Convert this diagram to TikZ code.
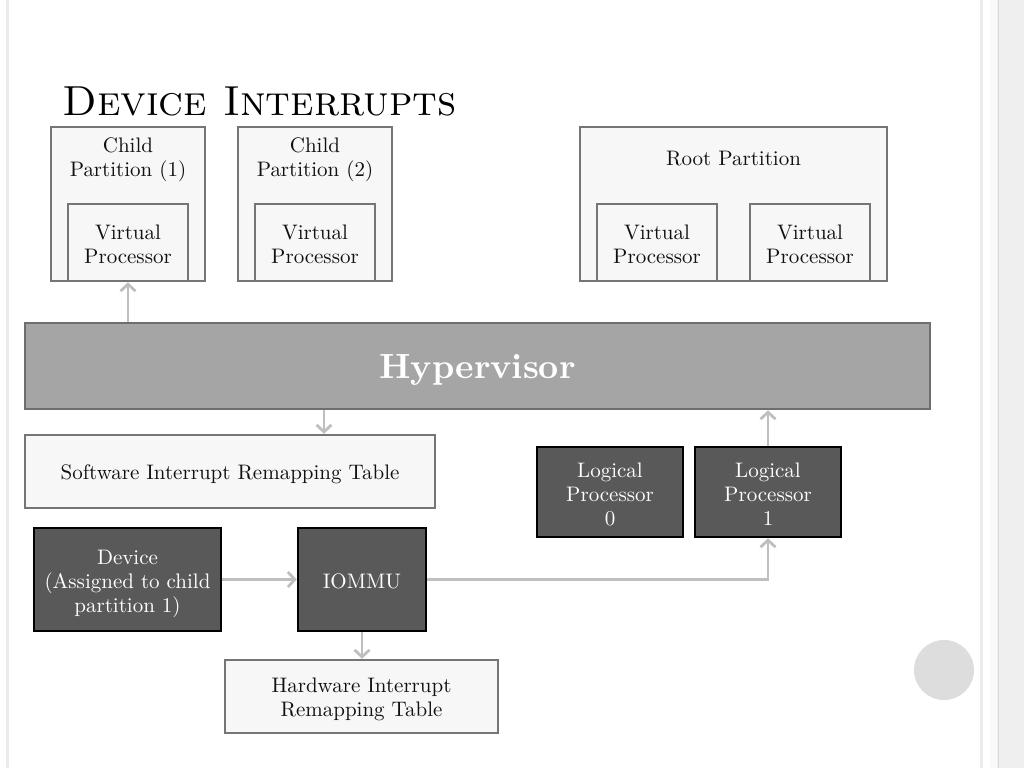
\documentclass[tikz,border=0pt]{standalone}
\usepackage{fontspec}
\setmainfont{lmroman10-regular}[Extension=.otf, BoldFont=lmroman10-bold, ItalicFont=lmroman10-italic, SmallCapsFont=lmromancaps10-regular]
\usetikzlibrary{arrows.meta}
\definecolor{lightfill}{HTML}{F7F7F7}
\definecolor{boxline}{HTML}{757575}
\definecolor{hypfill}{HTML}{A5A5A5}
\definecolor{hypline}{HTML}{6E6E6E}
\definecolor{darkfill}{HTML}{595959}
\definecolor{arrowgrey}{HTML}{BFBFBF}
\definecolor{edgegrey}{HTML}{EBEBEB}
\definecolor{bandgrey}{HTML}{EFEFEF}
\definecolor{circgrey}{HTML}{DDDDDD}
\definecolor{textdark}{HTML}{111111}
% lower a block of centred lines without changing its size
\newcommand{\lowerlines}[2]{\raisebox{-#1}[\height][\depth]{\begin{tabular}{@{}c@{}}#2\end{tabular}}}
\tikzset{
  txt/.style={font=\fontsize{21}{24}\selectfont, align=center, text=textdark},
  lightbox/.style={draw=boxline, fill=lightfill, line width=2.5pt, rectangle, inner sep=0pt, txt},
  darkbox/.style={draw=black, fill=darkfill, line width=2.5pt, rectangle, inner sep=0pt, txt, text=white},
  label/.style={txt, inner sep=0pt},
  arr/.style={draw=arrowgrey, line width=2.8pt, -{Straight Barb[length=7pt,width=15pt,line width=2.8pt]}},
}
\begin{document}
\begin{tikzpicture}[x=1pt,y=-1pt]
\useasboundingbox (0,0) rectangle (1024,768);
\fill[white] (0,0) rectangle (1024,768);
% slide decoration
\draw[edgegrey, line width=3pt] (7,0) -- (7,768);
\draw[edgegrey, line width=3pt] (981,0) -- (981,768);
\fill[bandgrey] (990,0) rectangle (1024,768);
\fill[white!60!bandgrey] (990,0) rectangle (997,768);
\draw[white!85!black, line width=1.5pt] (998.5,0) -- (998.5,768);
\fill[circgrey] (944,670) circle (30);
% title
\node[anchor=base west, inner sep=0pt, font=\fontsize{42}{50}\selectfont, text=black] (title) at (62,115) {\textsc{Device Interrupts}};
% partitions
\node[lightbox, minimum width=154pt, minimum height=154pt] (cp1) at (128,204) {};
\node[label] (cp1l) at (128,160) {Child\\Partition (1)};
\node[lightbox, minimum width=120pt, minimum height=77pt] (vp1) at (128,242.5) {\lowerlines{4pt}{Virtual\\Processor}};
\node[lightbox, minimum width=154pt, minimum height=154pt] (cp2) at (315,204) {};
\node[label] (cp2l) at (315,160) {Child\\Partition (2)};
\node[lightbox, minimum width=120pt, minimum height=77pt] (vp2) at (315,242.5) {\lowerlines{4pt}{Virtual\\Processor}};
\node[lightbox, minimum width=307pt, minimum height=154pt] (root) at (733.5,204) {};
\node[label] (rootl) at (733.5,159) {Root Partition};
\node[lightbox, minimum width=120pt, minimum height=77pt] (vp3) at (657,242.5) {\lowerlines{4pt}{Virtual\\Processor}};
\node[lightbox, minimum width=120pt, minimum height=77pt] (vp4) at (810,242.5) {\lowerlines{4pt}{Virtual\\Processor}};
% hypervisor
\node[draw=hypline, fill=hypfill, line width=2.5pt, minimum width=905pt, minimum height=86pt, inner sep=0pt, text=white, font=\fontsize{35}{40}\selectfont\bfseries] (hyp) at (477.5,366) {\raisebox{-3.5pt}[\height][\depth]{Hypervisor}};
% tables and processors
\node[lightbox, minimum width=410pt, minimum height=73pt] (sw) at (230,471.5) {\lowerlines{3pt}{Software Interrupt Remapping Table}};
\node[darkbox, minimum width=146pt, minimum height=90pt] (lp0) at (610,492) {\lowerlines{5pt}{Logical\\Processor\\0}};
\node[darkbox, minimum width=146pt, minimum height=90pt] (lp1) at (768,492) {\lowerlines{5pt}{Logical\\Processor\\1}};
\node[darkbox, minimum width=187pt, minimum height=103pt] (dev) at (127.5,579.5) {\lowerlines{4pt}{Device\\(Assigned to child\\partition 1)}};
\node[darkbox, minimum width=128pt, minimum height=103pt] (iommu) at (362,579.5) {\lowerlines{4pt}{IOMMU}};
\node[lightbox, minimum width=273pt, minimum height=73pt] (hw) at (361.5,696.5) {\lowerlines{3pt}{Hardware Interrupt\\Remapping Table}};
% connectors
\draw[arr] (vp1.south |- hyp.north) -- (vp1.south);
\draw[arr] ([xshift=94pt]sw.north |- hyp.south) -- ([xshift=94pt]sw.north);
\draw[arr] (lp1.north) -- (lp1.north |- hyp.south);
\draw[arr] (dev.east) -- (iommu.west);
\draw[arr] (iommu.south) -- (iommu.south |- hw.north);
\draw[arr] (iommu.east) -| (lp1.south);
\end{tikzpicture}
\end{document}
